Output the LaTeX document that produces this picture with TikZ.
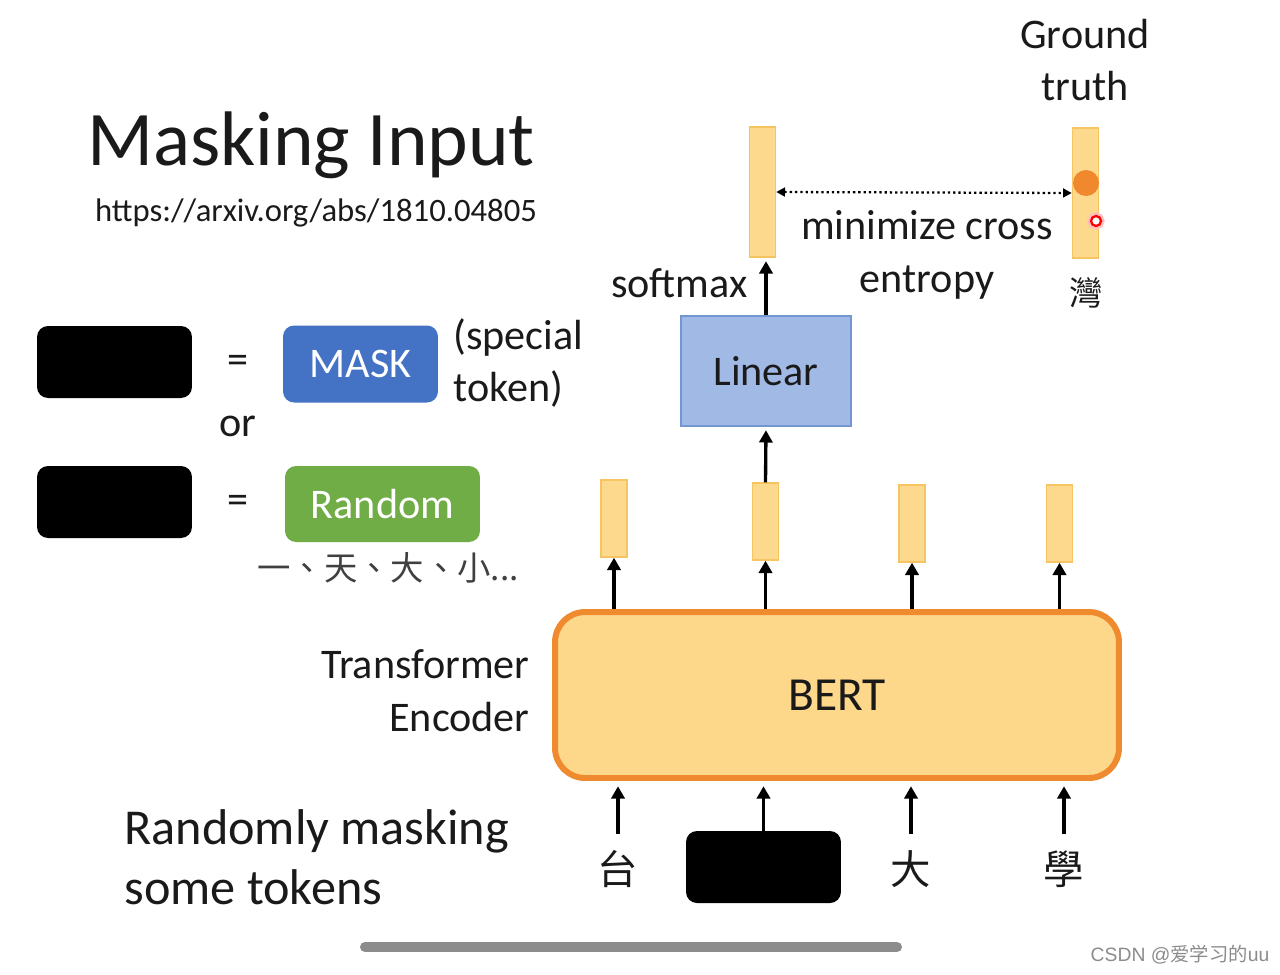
\documentclass[tikz,border=0pt]{standalone}
\usepackage{fontspec}
\usepackage{xcolor}
\setmainfont{Carlito}
\newfontfamily\cjk{Noto Sans CJK TC}
\newfontfamily\cjksc{Noto Sans CJK SC}
\newfontfamily\wmfont{Liberation Sans}
\usepackage{tikz}
\usetikzlibrary{arrows.meta, positioning, calc}

\definecolor{inkblack}{HTML}{1A1A1A}
\definecolor{vecfill}{HTML}{FDD98E}
\definecolor{vecline}{HTML}{F6C562}
\definecolor{bertfill}{HTML}{FDD78A}
\definecolor{bertline}{HTML}{F08A2E}
\definecolor{linfill}{HTML}{A1B9E5}
\definecolor{linline}{HTML}{7296D2}
\definecolor{maskblue}{HTML}{4472C4}
\definecolor{randgreen}{HTML}{70AD47}
\definecolor{dotorange}{HTML}{F0892E}

\begin{document}
\begin{tikzpicture}[
    x=0.02cm, y=-0.02cm,
    txt/.style={font=\fontsize{24}{30}\selectfont, inner sep=0pt, text=inkblack},
    vec/.style={draw=vecline, fill=vecfill, line width=0.8pt, minimum width=5.2mm,
                inner sep=0pt},
    blk/.style={fill=black, rounded corners=2.2mm, minimum width=31mm,
                minimum height=14.4mm, inner sep=0pt},
    keybox/.style={rounded corners=2.2mm, minimum height=15.4mm, inner sep=0pt,
                   text=white, font=\fontsize{24}{30}\selectfont},
    tok/.style={font=\cjk\fontsize{23}{23}\selectfont, minimum height=14mm,
                inner sep=0pt, text=inkblack},
    arr/.style={-{Triangle[length=7pt,width=7.5pt]}, line width=1.9pt},
    dotarr/.style={{Triangle[length=5pt,width=5pt]}-{Triangle[length=5pt,width=5pt]},
                   line width=1.3pt, dash pattern=on 1.3pt off 1.7pt},
  ]
  \useasboundingbox (0,0) rectangle (1280,974);
  \fill[white] (0,0) rectangle (1280,974);

  % title and reference
  \node[font=\fontsize{44}{44}\selectfont, inner sep=0pt, text=inkblack] (title) at (311,145) {Masking Input};
  \node[font=\fontsize{18.6}{20}\selectfont, inner sep=0pt, text=inkblack] (url) at (316,213) {https://arxiv.org/abs/1810.04805};

  % legend: mask token or random token
  \node[blk] (m1) at (114.5,362) {};
  \node[txt] (eq1) at (238,364) {=};
  \node[keybox, fill=maskblue, minimum width=31mm] (mask) at (360.5,364) {MASK};
  \node[txt, align=left, anchor=west] (spec) at (453,363) {(special\\token)};
  \node[txt] (or) at (238,426) {or};
  \node[blk] (m2) at (114.5,502) {};
  \node[txt] (eq2) at (238,504) {=};
  \node[keybox, fill=randgreen, minimum width=39mm, minimum height=15.2mm] (rand) at (382.5,504) {Random};
  \node[font=\cjk\fontsize{19}{19}\selectfont, inner sep=0pt, text=black!75] (cands) at (388,568) {一、天、大、小...};

  % encoder
  \node[draw=bertline, fill=bertfill, line width=3.4pt, rounded corners=6mm,
        minimum width=112.8mm, minimum height=33.2mm, inner sep=0pt,
        font=\fontsize{27}{30}\selectfont, text=inkblack] (bert) at (837,695) {BERT};
  \node[txt, align=right, anchor=east] (enc) at (530,691) {Transformer\\Encoder};

  % output vectors
  \node[vec, minimum height=15.4mm] (h1) at (614,518.5) {};
  \node[vec, minimum height=15.4mm] (h2) at (765.5,521.5) {};
  \node[vec, minimum height=15.4mm] (h3) at (912,523.5) {};
  \node[vec, minimum height=15.4mm] (h4) at (1059.5,523.5) {};

  \node[draw=linline, fill=linfill, line width=0.8pt, minimum width=34mm,
        minimum height=22mm, inner sep=0pt, font=\fontsize{24}{30}\selectfont,
        text=inkblack] (lin) at (766,371) {Linear};

  \node[vec, minimum height=26mm] (out) at (762.5,192) {};
  \node[vec, minimum height=26mm] (gt) at (1085.5,193) {};
  \node[txt, align=center] (gtlab) at (1085,60) {Ground\\truth};
  \node[font=\cjk\fontsize{19}{19}\selectfont, inner sep=0pt, text=inkblack] (wan) at (1086,293) {灣};
  \node[circle, fill=dotorange, inner sep=0pt, minimum size=5.2mm] (hit) at (1086,183) {};
  \node[circle, draw=red, fill=white, line width=1.3pt, inner sep=0pt, minimum size=2mm,
        preaction={draw=red!25, line width=4pt}] (ptr) at (1096,221) {};

  \node[txt, anchor=east] (smax) at (748,283) {softmax};
  \node[txt, align=center] (ce) at (927,255) {minimize cross\\entropy};

  % input tokens
  \node[tok] (t1) at (618,869) {台};
  \node[blk] (t2) at (763.5,867) {};
  \node[tok] (t3) at (911,869) {大};
  \node[tok] (t4) at (1064,869) {學};
  \node[font=\fontsize{28.6}{34}\selectfont, inner sep=0pt, text=inkblack, align=left,
        anchor=west] (rmask) at (124,857) {Randomly masking\\some tokens};

  % connectors
  \foreach \t in {t1,t2,t3,t4}
    \draw[arr, shorten >=3pt] (\t.north) -- (\t.north |- bert.south);
  \foreach \h in {h1,h2,h3,h4}
    \draw[arr] (\h.south |- bert.north) -- (\h.south);
  \draw[arr, shorten >=2pt] (h2.north) -- (lin.south);
  \draw[arr, shorten >=2pt] (lin.north) -- (lin.north |- out.south);
  \draw[dotarr] (out.east) -- (gt.west);

  % screenshot leftovers
  \draw[line width=5.7pt, black!45, line cap=round] (365,947) -- (897,947);
  \node[font=\wmfont\fontsize{11}{12}\selectfont, text=black!45, inner sep=0pt] (wm) at (1180,955)
        {CSDN @{\cjksc 爱学习的}uu};

\end{tikzpicture}
\end{document}
